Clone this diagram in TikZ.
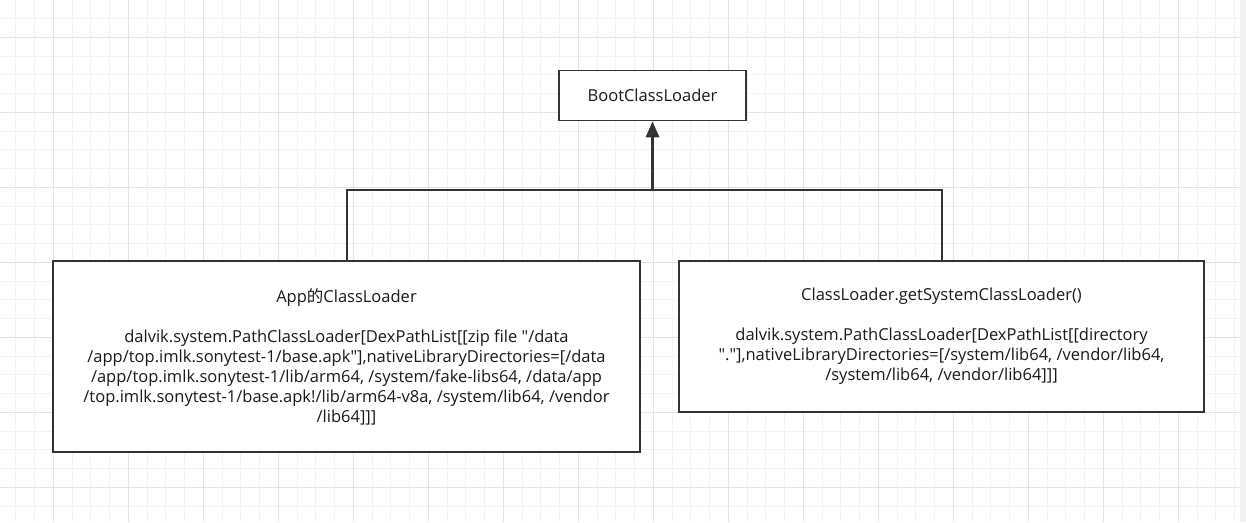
\documentclass[tikz,border=0pt]{standalone}
\usepackage{fontspec}
\setmainfont{Open Sans}[Ligatures=TeXOff]
\newfontfamily\cjk{Noto Sans CJK SC}
\usetikzlibrary{arrows.meta}

\definecolor{gridminor}{HTML}{F2F2F2}
\definecolor{gridmajor}{HTML}{E3E3E3}
\definecolor{edgegray}{HTML}{333333}
\definecolor{textgray}{HTML}{1A1A1A}

\tikzset{
    loaderbox/.style={draw=edgegray, line width=1.6pt, fill=white, inner sep=0pt,
        align=center, text=textgray, font=\fontsize{16.5}{20}\selectfont},
    link/.style={draw=edgegray, line width=2pt},
}

\begin{document}
\begin{tikzpicture}[x=1pt, y=-1pt]
        \useasboundingbox (0,0) rectangle (1246,522);

        % Background grid
        \fill[white] (0,0) rectangle (1246,522);
        \foreach \k in {0,...,67} {
            \draw[gridminor, line width=1pt] (-2.95+18.75*\k,0) -- (-2.95+18.75*\k,522);
        }
        \foreach \k in {0,...,28} {
            \draw[gridminor, line width=1pt] (0,-0.2+18.75*\k) -- (1246,-0.2+18.75*\k);
        }
        \foreach \k in {0,...,16} {
            \draw[gridmajor, line width=1pt] (53.3+75*\k,0) -- (53.3+75*\k,522);
        }
        \foreach \k in {0,...,6} {
            \draw[gridmajor, line width=1pt] (0,37.3+75*\k) -- (1246,37.3+75*\k);
        }
        \fill[gridminor] (1240,0) rectangle (1246,522);

        % Define the boxes
        \node[loaderbox, minimum width=187pt, minimum height=50pt] (boot) at (652.5,95.5) {BootClassLoader};
        \node[loaderbox, minimum width=587pt, minimum height=191pt] (app) at (346.5,356.5)
            {App{\cjk 的}ClassLoader\\[20pt]
             dalvik.system.PathClassLoader[DexPathList[[zip file "/data\\
             /app/top.imlk.sonytest-1/base.apk"],nativeLibraryDirectories=[/data\\
             /app/top.imlk.sonytest-1/lib/arm64, /system/fake-libs64, /data/app\\
             /top.imlk.sonytest-1/base.apk!/lib/arm64-v8a, /system/lib64, /vendor\\
             /lib64]]]};
        \node[loaderbox, minimum width=525pt, minimum height=151pt] (sys) at (941.5,336.5)
            {ClassLoader.getSystemClassLoader()\\[20pt]
             dalvik.system.PathClassLoader[DexPathList[[directory\\
             "."],nativeLibraryDirectories=[/system/lib64, /vendor/lib64,\\
             /system/lib64, /vendor/lib64]]]};

        % Draw connectors
        \coordinate (joint) at (652.5,190);
        \draw[link] (app.north) |- (joint);
        \draw[link] (sys.north) |- (joint);
        \draw[link, line width=3pt, -{Triangle[length=16pt, width=13pt]}] (joint) -- (boot.south);
    \end{tikzpicture}
\end{document}
